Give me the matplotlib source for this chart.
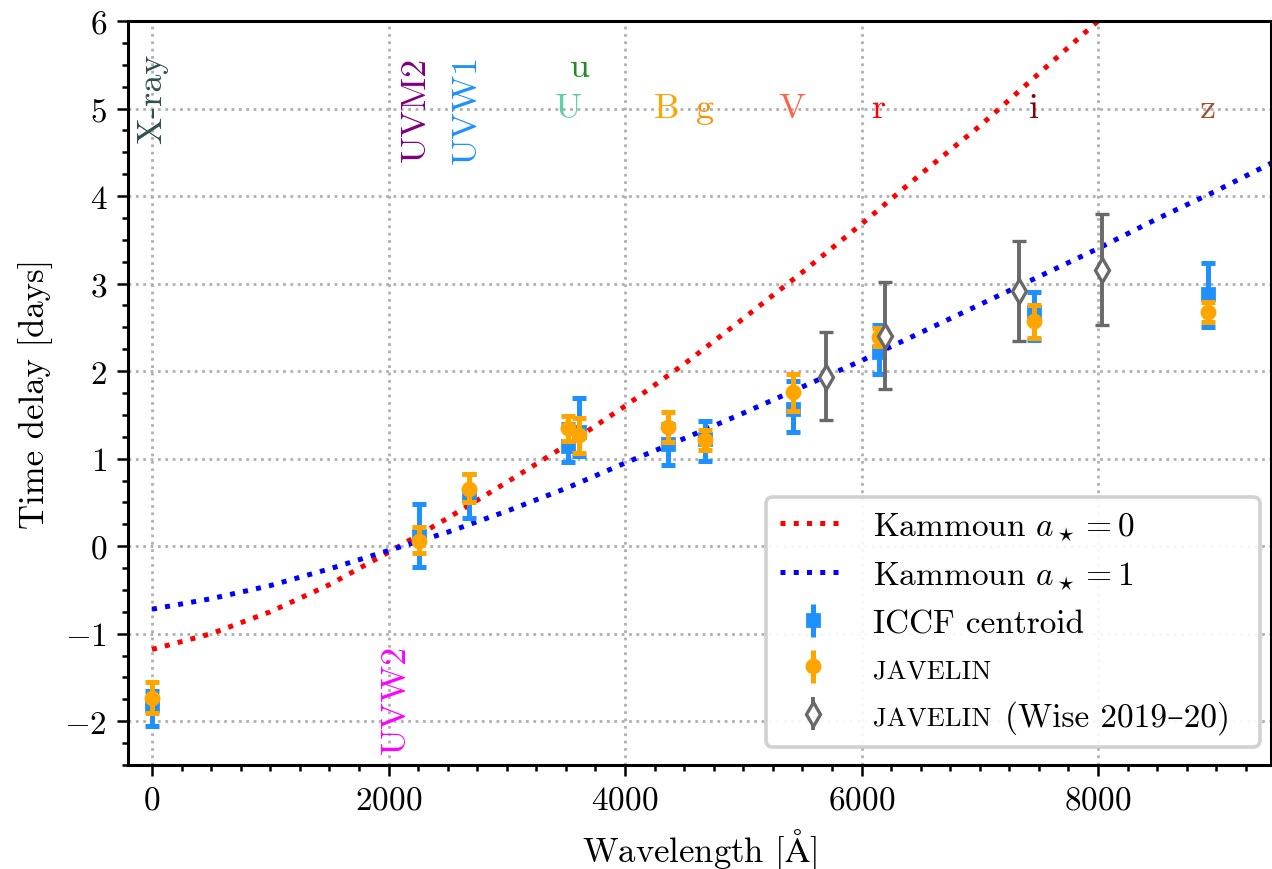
import numpy as np
import matplotlib
matplotlib.use("Agg")
import matplotlib.pyplot as plt
from matplotlib.ticker import MultipleLocator

# ---------------- data ----------------
# Kammoun model curves
model_wl = [0, 500, 1000, 1500, 2000, 2500, 3000, 3500, 4000, 4500, 5000,
            5500, 6000, 6500, 7000, 7500, 8000, 8500, 9000, 9500]
model_a0 = [-1.18, -1.00, -0.75, -0.44, -0.07, 0.32, 0.73, 1.15, 1.60, 2.08, 2.60,
            3.13, 3.68, 4.25, 4.80, 5.40, 6.00, 6.60, 7.20, 7.80]
model_a1 = [-0.72, -0.60, -0.45, -0.26, -0.05, 0.16, 0.40, 0.66, 0.95, 1.23, 1.52,
            1.82, 2.12, 2.44, 2.76, 3.08, 3.40, 3.74, 4.06, 4.40]

# ICCF centroid lags
iccf_wl = [0, 2260, 2680, 3520, 3610, 4360, 4680, 5420, 6150, 7460, 8930]
iccf_lag = [-1.82, 0.12, 0.58, 1.15, 1.30, 1.17, 1.22, 1.57, 2.22, 2.67, 2.88]
iccf_low = [-2.05, -0.24, 0.32, 0.96, 1.03, 0.93, 0.97, 1.30, 1.97, 2.36, 2.50]
iccf_high = [-1.65, 0.48, 0.82, 1.40, 1.69, 1.40, 1.43, 1.89, 2.53, 2.90, 3.23]

# JAVELIN lags
jav_wl = [0, 2260, 2680, 3520, 3610, 4360, 4680, 5420, 6150, 7460, 8930]
jav_lag = [-1.73, 0.06, 0.65, 1.35, 1.27, 1.36, 1.21, 1.76, 2.39, 2.57, 2.67]
jav_low = [-1.91, -0.08, 0.50, 1.20, 1.07, 1.19, 1.10, 1.54, 2.29, 2.38, 2.56]
jav_high = [-1.55, 0.22, 0.82, 1.49, 1.47, 1.53, 1.33, 1.97, 2.49, 2.75, 2.79]

# JAVELIN (Wise 2019-20)
wise_wl = [5700, 6200, 7330, 8030]
wise_lag = [1.93, 2.40, 2.91, 3.16]
wise_low = [1.44, 1.79, 2.34, 2.53]
wise_high = [2.45, 3.02, 3.49, 3.79]

# band labels
band_names = ["X-ray", "UVM2", "UVW1", "UVW2", "u", "U", "B", "g", "V", "r", "i", "z"]
band_x = [0, 2230, 2665, 2060, 3620, 3520, 4350, 4680, 5410, 6140, 7460, 8930]
band_y = [5.12, 5.0, 5.0, -1.74, 5.47, 5.0, 5.0, 5.0, 5.0, 5.0, 5.0, 5.0]
band_rot = [90, 90, 90, 90, 0, 0, 0, 0, 0, 0, 0, 0]
band_col = ["darkslategray", "purple", "dodgerblue", "magenta", "forestgreen",
            "mediumaquamarine", "orange", "darkorange", "tomato", "red", "darkred", "sienna"]

# ---------------- style ----------------
plt.rcParams["font.family"] = ["cmr10", "DejaVu Serif"]
plt.rcParams["mathtext.fontset"] = "cm"
plt.rcParams["axes.formatter.use_mathtext"] = True
plt.rcParams["axes.unicode_minus"] = True
plt.rcParams["font.size"] = 12

fig = plt.figure(figsize=(6.36, 4.35), dpi=200)
ax = fig.add_axes([128 / 1272, 1 - 766 / 870, (1271 - 128) / 1272, (766 - 22) / 870])

ax.grid(True, which="major", ls=":", color="#b0b0b0", lw=1.0, zorder=0)
ax.set_axisbelow(True)

ax.plot(model_wl, model_a0, ls=":", color="red", lw=1.8, label=r"Kammoun $a_\star = 0$", zorder=2)
ax.plot(model_wl, model_a1, ls=":", color="blue", lw=1.8, label=r"Kammoun $a_\star = 1$", zorder=2)

def asym(vals, lo, hi):
    v = np.array(vals); return [v - np.array(lo), np.array(hi) - v]

sq = dict(fmt="s", color="dodgerblue", ms=4.3, elinewidth=1.8)
ci = dict(fmt="o", color="orange", ms=4.7, elinewidth=1.8)
di = dict(fmt="d", color="dimgray", mfc="white", mec="dimgray", mew=1.2, ms=6.2, elinewidth=1.4)

ax.errorbar(iccf_wl, iccf_lag, yerr=asym(iccf_lag, iccf_low, iccf_high),
            capsize=2.5, capthick=1.8, zorder=3, **sq)
ax.errorbar(jav_wl, jav_lag, yerr=asym(jav_lag, jav_low, jav_high),
            capsize=2.5, capthick=1.8, zorder=4, **ci)
ax.errorbar(wise_wl, wise_lag, yerr=asym(wise_lag, wise_low, wise_high),
            capsize=2.6, capthick=1.4, zorder=4, **di)

# legend proxies (no caps)
ax.errorbar([], [], yerr=[], capsize=0, label="ICCF centroid", **sq)
ax.errorbar([], [], yerr=[], capsize=0, label="JAVELIN", **ci)
ax.errorbar([], [], yerr=[], capsize=0, label="JAVELIN (Wise 2019\u201320)", **di)

for name, x, y, r, c in zip(band_names, band_x, band_y, band_rot, band_col):
    ax.text(x, y, name, rotation=r, color=c, ha="center", va="center", fontsize=13, zorder=5)

ax.set_xlim(-203, 9463)
ax.set_ylim(-2.5, 6)
ax.xaxis.set_major_locator(MultipleLocator(2000))
ax.xaxis.set_minor_locator(MultipleLocator(250))
ax.yaxis.set_major_locator(MultipleLocator(1))
ax.yaxis.set_minor_locator(MultipleLocator(0.25))
ax.tick_params(which="major", length=4, width=0.9, labelsize=12, direction="out")
ax.tick_params(which="minor", length=2.2, width=0.9, direction="out")
for s in ax.spines.values():
    s.set_linewidth(1.1)

ax.set_xlabel(r"Wavelength [$\mathrm{\AA}$]", fontsize=12.5)
ax.set_ylabel("Time delay [days]", fontsize=12.5)

leg = ax.legend(loc="lower right", bbox_to_anchor=(0.9904, 0.0242), borderaxespad=0,
                fontsize=12, framealpha=0.9, edgecolor="#cccccc",
                fancybox=True, handlelength=2.0)
leg.get_frame().set_linewidth(1.3)
texts = leg.get_texts()
small = 9.6
texts[3].set_fontsize(small)
# entry 5: invisible label keeps the frame width; visible small-caps + normal text drawn on top
texts[4].set_fontsize(11.7)
texts[4].set_alpha(0)
ax.annotate("JAVELIN", xy=(0, 0), xycoords=(texts[3], texts[4]), xytext=(0, 2.9),
            textcoords="offset points", ha="left", va="baseline", fontsize=small,
            zorder=10, annotation_clip=False)
ax.annotate("(Wise 2019\u201320)", xy=(1, 0), xycoords=(texts[3], texts[4]), xytext=(5.0, 2.9),
            textcoords="offset points", ha="left", va="baseline", fontsize=12,
            zorder=10, annotation_clip=False)

fig.savefig("out.png", dpi=200)
